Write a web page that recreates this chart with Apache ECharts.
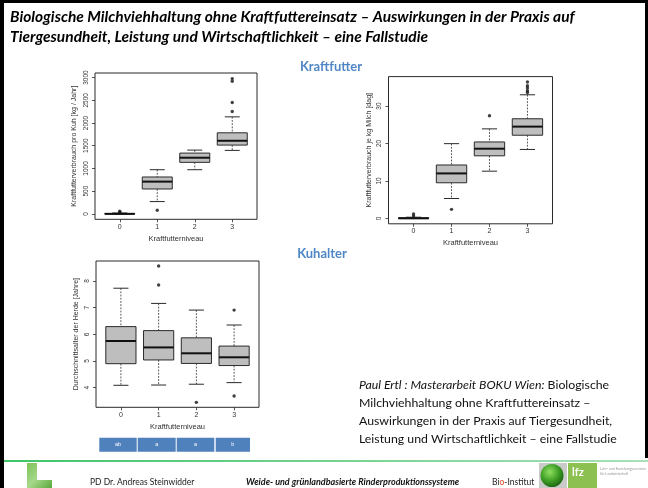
<!DOCTYPE html>
<html>
<head>
<meta charset="utf-8">
<script src="https://cdn.jsdelivr.net/npm/echarts@6/dist/echarts.min.js"></script>
<style>
  html, body { margin: 0; padding: 0; background: #fff; }
  #c { width: 648px; height: 488px; }
</style>
</head>
<body>
<div id="c"></div>
<script>
// Kraftfutterniveau 0..3
const niveauLabels = ['0', '1', '2', '3'];

// Boxplot-Kennwerte je Niveau: [unterer Whisker, Q1, Median, Q3, oberer Whisker]
const kgJahrBoxes = [
  [0, 0, 0, 10, 20],
  [271, 548, 710, 812, 972],
  [972, 1134, 1236, 1338, 1404],
  [1397, 1514, 1609, 1784, 2135]
];
// Ausreißer: [Niveau, Wert]
const kgJahrOutliers = [[0, 35], [0, 60], [1, 80], [3, 2253], [3, 2450], [3, 2918], [3, 2977]];
const kgJahrTicks = [0, 500, 1000, 1500, 2000, 2500, 3000];

const dagBoxes = [
  [0, 0, 0, 0.15, 0.3],
  [5.3, 9.5, 12.0, 14.25, 19.95],
  [12.6, 16.7, 18.6, 20.4, 23.9],
  [18.4, 22.2, 24.5, 26.6, 33.0]
];
const dagOutliers = [[0, 0.6], [0, 1.15], [1, 2.4], [2, 27.4], [3, 33.6], [3, 34.1], [3, 34.8], [3, 35.4], [3, 36.4]];
const dagTicks = [0, 10, 20, 30];

const alterBoxes = [
  [4.09, 4.90, 5.75, 6.29, 7.73],
  [4.10, 5.04, 5.51, 6.14, 7.16],
  [4.13, 4.91, 5.29, 5.87, 6.91],
  [4.19, 4.83, 5.14, 5.56, 6.35]
];
const alterOutliers = [[1, 8.56], [1, 7.85], [2, 3.45], [3, 6.91], [3, 3.69]];
const alterTicks = [4, 5, 6, 7, 8];

// Signifikanzgruppen unter dem Kuhalter-Diagramm
const signifLetters = ['ab', 'a', 'a', 'b'];

const PLOT_FONT = '"Liberation Sans", Arial, sans-serif';
const SLIDE_FONT = 'Lato, "Open Sans", sans-serif';
const INK = '#2a2a2a';
const LEVELS = niveauLabels.map((_, i) => i);

function boxRows(boxes) {
  return boxes.map((b, i) => [i].concat(b));
}

// R-artiger Boxplot: gestrichelte Whisker, kurze Querstriche, graue Box, dicker Median
function renderBox(params, api) {
  const x = api.value(0);
  const p = [1, 2, 3, 4, 5].map(k => api.coord([x, api.value(k)]));
  const cx = p[0][0];
  const bw = api.size([0.8, 0])[0];
  const cap = bw / 2;
  const dash = { stroke: INK, lineWidth: 0.8, lineDash: [1.8, 1.4] };
  const solid = { stroke: INK, lineWidth: 1 };
  return {
    type: 'group',
    children: [
      { type: 'line', shape: { x1: cx, y1: p[4][1], x2: cx, y2: p[3][1] }, style: dash },
      { type: 'line', shape: { x1: cx, y1: p[1][1], x2: cx, y2: p[0][1] }, style: dash },
      { type: 'line', shape: { x1: cx - cap / 2, y1: p[4][1], x2: cx + cap / 2, y2: p[4][1] }, style: solid },
      { type: 'line', shape: { x1: cx - cap / 2, y1: p[0][1], x2: cx + cap / 2, y2: p[0][1] }, style: solid },
      { type: 'rect', shape: { x: cx - bw / 2, y: p[3][1], width: bw, height: p[1][1] - p[3][1] },
        style: { fill: '#bebebe', stroke: INK, lineWidth: 1 } },
      { type: 'line', shape: { x1: cx - bw / 2, y1: p[2][1], x2: cx + bw / 2, y2: p[2][1] },
        style: { stroke: '#111', lineWidth: 2 } }
    ]
  };
}

function gridBox(left, top, width, height) {
  return { left, top, width, height, show: true, borderColor: INK, borderWidth: 1,
           backgroundColor: 'transparent', containLabel: false };
}

function xAxisFor(gridIndex, labelMargin, nameGap) {
  return {
    type: 'value', gridIndex, min: -0.66, max: 3.66, position: 'bottom',
    splitLine: { show: false }, axisLine: { show: false, onZero: false },
    axisTick: { show: true, length: 3, customValues: LEVELS, lineStyle: { color: INK, width: 0.8 } },
    axisLabel: { customValues: LEVELS, formatter: v => niveauLabels[v], fontSize: 7, color: '#333',
                 margin: labelMargin, fontFamily: PLOT_FONT },
    name: 'Kraftfutterniveau', nameLocation: 'middle', nameGap,
    nameTextStyle: { fontSize: 7.5, color: '#333', fontFamily: PLOT_FONT }
  };
}

function yAxisFor(gridIndex, min, max, ticks, name, labelMargin, nameGap) {
  return {
    type: 'value', gridIndex, min, max, position: 'left',
    splitLine: { show: false }, axisLine: { show: false, onZero: false },
    axisTick: { show: true, length: 3, customValues: ticks, lineStyle: { color: INK, width: 0.8 } },
    axisLabel: { customValues: ticks, formatter: v => String(v), rotate: 90, fontSize: 6.5, color: '#333',
                 margin: labelMargin, fontFamily: PLOT_FONT },
    name, nameLocation: 'middle', nameRotate: 90, nameGap,
    nameTextStyle: { fontSize: 7, color: '#333', fontFamily: PLOT_FONT }
  };
}

function boxSeries(idx, boxes) {
  return { type: 'custom', xAxisIndex: idx, yAxisIndex: idx, data: boxRows(boxes),
           encode: { x: 0, y: [1, 2, 3, 4, 5] }, renderItem: renderBox, silent: true };
}
function outlierSeries(idx, pts) {
  return { type: 'scatter', xAxisIndex: idx, yAxisIndex: idx, data: pts, symbol: 'circle',
           symbolSize: 3.4, itemStyle: { color: '#111' }, silent: true };
}

// Folien-Dekor: Rahmen, Überschriften, Fußzeile
const graphics = [
  { type: 'rect', shape: { x: 0, y: 0, width: 648, height: 3 }, style: { fill: '#000' } },
  { type: 'rect', shape: { x: 0, y: 0, width: 4, height: 488 }, style: { fill: '#000' } },
  { type: 'rect', shape: { x: 645, y: 0, width: 3, height: 458 }, style: { fill: '#000' } },
  { type: 'text', x: 10, y: 17, style: {
      text: 'Biologische Milchviehhaltung ohne Kraftfuttereinsatz – Auswirkungen in der Praxis auf',
      font: 'italic bold 15.5px ' + SLIDE_FONT, fill: '#000', textVerticalAlign: 'middle' } },
  { type: 'text', x: 10, y: 37, style: {
      text: 'Tiergesundheit, Leistung und Wirtschaftlichkeit – eine Fallstudie',
      font: 'italic bold 15.5px ' + SLIDE_FONT, fill: '#000', textVerticalAlign: 'middle' } },
  { type: 'text', x: 331, y: 67, style: { text: 'Kraftfutter', font: 'bold 13px ' + SLIDE_FONT,
      fill: '#4f86c6', textAlign: 'center', textVerticalAlign: 'middle' } },
  { type: 'text', x: 322, y: 254, style: { text: 'Kuhalter', font: 'bold 13px ' + SLIDE_FONT,
      fill: '#4f86c6', textAlign: 'center', textVerticalAlign: 'middle' } },
  { type: 'text', x: 359, y: 385, style: {
      text: '{i|Paul Ertl : Masterarbeit BOKU Wien:} Biologische',
      font: '12.3px ' + SLIDE_FONT, fill: '#111', textVerticalAlign: 'middle',
      rich: { i: { fontStyle: 'italic', fontSize: 12.3, fontFamily: SLIDE_FONT, fill: '#111' } } } },
  { type: 'text', x: 359, y: 403, style: { text: 'Milchviehhaltung ohne Kraftfuttereinsatz –',
      font: '12.3px ' + SLIDE_FONT, fill: '#111', textVerticalAlign: 'middle' } },
  { type: 'text', x: 359, y: 421, style: { text: 'Auswirkungen in der Praxis auf Tiergesundheit,',
      font: '12.3px ' + SLIDE_FONT, fill: '#111', textVerticalAlign: 'middle' } },
  { type: 'text', x: 359, y: 439, style: { text: 'Leistung und Wirtschaftlichkeit – eine Fallstudie',
      font: '12.3px ' + SLIDE_FONT, fill: '#111', textVerticalAlign: 'middle' } },
  // Fußzeile
  { type: 'rect', shape: { x: 4, y: 460, width: 644, height: 2 }, style: {
      fill: new echarts.graphic.LinearGradient(0, 0, 1, 0, [
        { offset: 0, color: '#3fc46a' }, { offset: 1, color: '#a8e0b8' }]) } },
  { type: 'polygon', shape: { points: [[27, 463], [37, 463], [37, 480], [52, 480], [52, 488], [27, 488]] },
    style: { fill: new echarts.graphic.LinearGradient(0, 0, 1, 1, [
      { offset: 0, color: '#7cc35a' }, { offset: 0.5, color: '#a6d88a' }, { offset: 1, color: '#5aa83c' }]) } },
  { type: 'text', x: 90, y: 482, style: { text: 'PD Dr. Andreas Steinwidder', font: '8.5px ' + SLIDE_FONT,
      fill: '#222', textVerticalAlign: 'middle' } },
  { type: 'text', x: 246, y: 482, style: { text: 'Weide- und grünlandbasierte Rinderproduktionssysteme',
      font: 'italic bold 9px ' + SLIDE_FONT, fill: '#111', textVerticalAlign: 'middle' } },
  { type: 'text', x: 492, y: 482, style: { text: 'Bi{o|o}-Institut', font: '8.5px ' + SLIDE_FONT,
      fill: '#222', textVerticalAlign: 'middle',
      rich: { o: { fill: '#e0471f', fontSize: 8.5, fontFamily: SLIDE_FONT } } } },
  { type: 'rect', shape: { x: 539, y: 463, width: 28, height: 25 }, style: { fill: '#c9cbc8' } },
  { type: 'circle', shape: { cx: 552, cy: 475.5, r: 11.5 }, style: {
      fill: new echarts.graphic.RadialGradient(0.4, 0.35, 0.7, [
        { offset: 0, color: '#8fe060' }, { offset: 0.6, color: '#3a9a22' }, { offset: 1, color: '#1d5e12' }]) } },
  { type: 'rect', shape: { x: 568, y: 463, width: 29, height: 25 }, style: { fill: '#8cc152' } },
  { type: 'text', x: 572, y: 472, style: { text: 'lfz', font: 'bold 11px ' + SLIDE_FONT, fill: '#fff',
      textVerticalAlign: 'middle' } },
  { type: 'text', x: 600, y: 469, style: { text: 'Lehr- und Forschungszentrum', font: '3.5px ' + SLIDE_FONT,
      fill: '#999', textVerticalAlign: 'middle' } },
  { type: 'text', x: 600, y: 474, style: { text: 'für Landwirtschaft', font: '3.5px ' + SLIDE_FONT,
      fill: '#999', textVerticalAlign: 'middle' } }
];

// Signifikanz-Kästchen unter dem Kuhalter-Diagramm
const signifEdges = [99.3, 137.7, 176.7, 215.7];
const signifWidths = [37.4, 38, 37.6, 34.3];
signifLetters.forEach((t, i) => {
  graphics.push({ type: 'rect', shape: { x: signifEdges[i], y: 437.7, width: signifWidths[i], height: 14 },
                  style: { fill: '#4f81bd' } });
  graphics.push({ type: 'text', x: signifEdges[i] + signifWidths[i] / 2, y: 444.7,
                  style: { text: t, font: '5.5px ' + PLOT_FONT, fill: '#fff', textAlign: 'center',
                           textVerticalAlign: 'middle' } });
});

const chart = echarts.init(document.getElementById('c'), null, { renderer: 'canvas' });
chart.setOption({
  animation: false,
  backgroundColor: '#fff',
  grid: [
    gridBox(95, 73, 162, 146.3),
    gridBox(388.5, 76.6, 164, 147.2),
    gridBox(96, 261, 163, 146.3)
  ],
  xAxis: [
    xAxisFor(0, 4, 15.5),
    xAxisFor(1, 4, 15.5),
    xAxisFor(2, 4, 15.5)
  ],
  yAxis: [
    yAxisFor(0, -119, 3100, kgJahrTicks, 'Kraftfutterverbrauch pro Kuh [kg / Jahr]', 5.5, 17),
    yAxisFor(1, -1.46, 37.86, dagTicks, 'Kraftfutterverbrauch je kg Milch [dag]', 5.5, 16),
    yAxisFor(2, 3.265, 8.75, alterTicks, 'Durchschnittsalter der Herde [Jahre]', 5.5, 16)
  ],
  series: [
    boxSeries(0, kgJahrBoxes), outlierSeries(0, kgJahrOutliers),
    boxSeries(1, dagBoxes), outlierSeries(1, dagOutliers),
    boxSeries(2, alterBoxes), outlierSeries(2, alterOutliers)
  ],
  graphic: graphics
});
</script>
</body>
</html>
